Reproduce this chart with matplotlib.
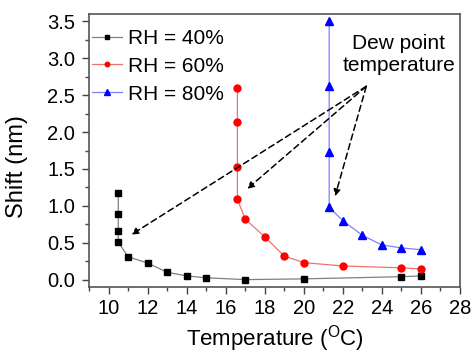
import matplotlib
matplotlib.use("Agg")
import matplotlib.pyplot as plt
from matplotlib.ticker import MultipleLocator

plt.rcParams['font.family'] = ['Liberation Sans', 'DejaVu Sans']

# Wavelength shift versus temperature for three relative humidities
t40 = [10.5, 10.5, 10.5, 10.5, 11, 12, 13, 14, 15, 17, 20, 25, 26]
s40 = [1.18, 0.89, 0.66, 0.51, 0.31, 0.225, 0.10, 0.05, 0.025, 0.0, 0.01, 0.04, 0.05]

t60 = [16.6, 16.6, 16.6, 16.6, 17, 18, 19, 20, 22, 25, 26]
s60 = [2.60, 2.13, 1.53, 1.09, 0.82, 0.58, 0.32, 0.23, 0.185, 0.16, 0.145]

t80 = [21.3, 21.3, 21.3, 21.3, 22, 23, 24, 25, 26]
s80 = [3.51, 2.63, 1.73, 0.98, 0.80, 0.60, 0.47, 0.43, 0.405]

labels = ['RH = 40%', 'RH = 60%', 'RH = 80%']

# Dew-point annotation: text anchor and arrow targets
note_xy = (23.2, 2.62)
arrow_targets = [(11.17, 0.61), (17.1, 1.23), (21.6, 1.13)]

fig = plt.figure(figsize=(4.73, 3.54), dpi=100)
ax = fig.add_axes([89/473, 1-287/354, (460-89)/473, (287-14)/354])

ax.plot(t40, s40, color='#808080', lw=0.9, marker='s', ms=4.3,
        mfc='black', mec='black', label=labels[0])
ax.plot(t60, s60, color='#f07070', lw=0.9, marker='o', ms=5.0,
        mfc='#ff0000', mec='#ff0000', label=labels[1])
ax.plot(t80, s80, color='#8080ff', lw=0.9, marker='^', ms=5.6,
        mfc='#0000ff', mec='#0000ff', label=labels[2])

for tx, ty in arrow_targets:
    ax.annotate('', xy=(tx, ty), xytext=note_xy,
                arrowprops=dict(arrowstyle='-|>', linestyle=(0, (4, 2.5)),
                                color='black', lw=1.1, mutation_scale=10,
                                shrinkA=0, shrinkB=0))

ax.text(24.87, 3.05, 'Dew point\ntemperature', ha='center', va='center',
        fontsize=15, linespacing=1.2)

ax.set_xlim(9, 28)
ax.set_ylim(-0.1, 3.6)
ax.xaxis.set_major_locator(MultipleLocator(2))
ax.xaxis.set_minor_locator(MultipleLocator(1))
ax.yaxis.set_major_locator(MultipleLocator(0.5))
ax.yaxis.set_minor_locator(MultipleLocator(0.25))
ax.tick_params(which='both', direction='out', top=False, right=False,
               labelsize=14.5, color='#444444')
ax.tick_params(which='major', length=5, width=1)
ax.tick_params(which='minor', length=3, width=1)
ax.tick_params(axis='x', which='major', pad=4)
ax.tick_params(axis='y', which='major', pad=5)
for sp in ax.spines.values():
    sp.set_color('#555555')
    sp.set_linewidth(1.2)

ax.set_xlabel('Temperature ($^{\\mathregular{O}}$C)', fontsize=16)
ax.set_ylabel('Shift (nm)', fontsize=17)
ax.xaxis.set_label_coords(0.5, -(345 - 287) / 273, transform=ax.transAxes)
ax.xaxis.label.set_va('baseline')
ax.yaxis.set_label_coords(-(89 - 17) / 371, 1 - (167 - 14) / 273)
ax.yaxis.label.set_va('center')

leg = ax.legend(loc='upper left', frameon=False, fontsize=15, markerscale=0.65,
                handlelength=1.45, handletextpad=0.3, labelspacing=0.42,
                borderpad=0, borderaxespad=0, bbox_to_anchor=(0.008, 0.945))

fig.savefig('out.png', dpi=100)
